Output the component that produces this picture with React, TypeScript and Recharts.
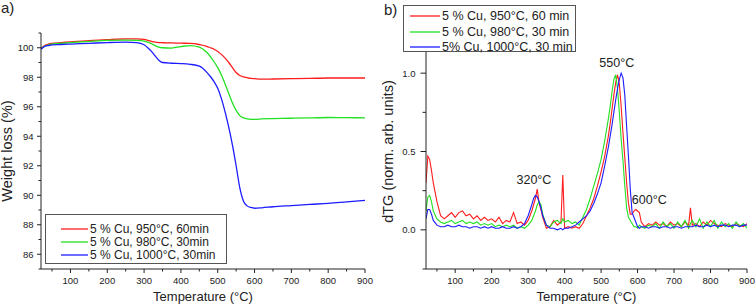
import { LineChart, Line, XAxis, YAxis, Legend, Label, ReferenceDot } from "recharts";

// TG curves (weight %), panel a
const tgTemps = [20, 30, 40, 50, 75, 100, 150, 200, 250, 280, 300, 310, 320, 330, 340, 350, 375, 400, 425, 450, 470, 480, 490, 500, 510, 520, 530, 540, 550, 560, 570, 580, 590, 600, 620, 650, 700, 750, 800, 850, 900];
const tgRed = [99.95, 100.15, 100.25, 100.3, 100.35, 100.4, 100.48, 100.55, 100.6, 100.6, 100.57, 100.5, 100.44, 100.38, 100.35, 100.34, 100.33, 100.31, 100.3, 100.22, 100.1, 100.0, 99.9, 99.75, 99.55, 99.3, 99.0, 98.65, 98.32, 98.12, 98.03, 97.97, 97.92, 97.9, 97.87, 97.88, 97.9, 97.92, 97.95, 97.95, 97.95];
const tgGreen = [99.95, 100.1, 100.2, 100.25, 100.3, 100.35, 100.43, 100.5, 100.52, 100.5, 100.45, 100.38, 100.28, 100.15, 100.05, 100.0, 99.98, 100.08, 100.15, 100.05, 99.7, 99.4, 99.05, 98.65, 98.15, 97.55, 96.9, 96.25, 95.75, 95.4, 95.25, 95.18, 95.15, 95.15, 95.18, 95.2, 95.22, 95.24, 95.27, 95.26, 95.25];
const tgBlue = [99.9, 100.1, 100.15, 100.2, 100.22, 100.25, 100.3, 100.35, 100.38, 100.35, 100.2, 100.0, 99.75, 99.45, 99.15, 99.0, 98.95, 98.93, 98.88, 98.75, 98.35, 98.05, 97.7, 97.25, 96.55, 95.65, 94.6, 93.4, 92.0, 90.5, 89.6, 89.28, 89.17, 89.12, 89.15, 89.22, 89.3, 89.38, 89.45, 89.55, 89.65];

// dTG curves (normalised), panel b
const dtgTemps = [
  20, 25, 30, 35, 40,
  50, 60, 70, 80, 90, 100, 110, 120, 130, 140, 150, 160, 170, 180, 190, 200, 210, 220, 230, 240, 250, 260, 270, 280, 290, 300,
  310, 315, 320, 325, 330, 335, 340,
  350, 360, 370, 380, 390, 395, 400,
  410, 420, 430, 440, 450, 460, 470, 480, 490, 500, 510,
  520, 525, 530, 535, 540, 545, 550, 555, 560, 565, 570, 575, 580, 585, 590, 595, 600, 605, 610,
  620, 630, 640, 650, 660, 670, 680, 690, 700, 710, 720, 730, 740, 745,
  750, 760, 770, 780, 790, 800, 810, 820, 830, 840, 850, 860, 870, 880, 890, 900,
];
const dtgRed = [
  0.3, 0.47, 0.45, 0.38, 0.3,
  0.18, 0.09, 0.07, 0.09, 0.11, 0.08, 0.11, 0.12, 0.09, 0.1, 0.07, 0.09, 0.06, 0.08, 0.06, 0.07, 0.05, 0.08, 0.04, 0.06, 0.05, 0.11, 0.04, 0.05, 0.03, 0.06,
  0.12, 0.16, 0.2, 0.26, 0.17, 0.13, 0.08,
  0.01, 0.02, 0.06, 0.03, 0.05, 0.35, 0.01,
  0.02, 0.01, 0.02, 0.01, 0.04, 0.09, 0.14, 0.2, 0.28, 0.37, 0.47,
  0.6, 0.68, 0.77, 0.86, 0.94, 0.99, 0.93, 0.79, 0.62, 0.46, 0.3, 0.17, 0.1, 0.1, 0.12, 0.13, 0.12, 0.11, 0.05,
  0.02, 0.04, 0.03, 0.05, 0.03, 0.04, 0.02, 0.05, 0.03, 0.04, 0.02, 0.05, 0.03, 0.14,
  0.03, 0.04, 0.02, 0.05, 0.03, 0.06, 0.04, 0.03, 0.02, 0.04, 0.03, 0.02, 0.04, 0.03, 0.02, 0.04,
];
const dtgGreen = [
  0.12, 0.21, 0.22, 0.18, 0.12,
  0.07, 0.05, 0.04, 0.05, 0.06, 0.04, 0.05, 0.06, 0.04, 0.05, 0.04, 0.05, 0.03, 0.04, 0.03, 0.04, 0.02, 0.03, 0.02, 0.03, 0.02, 0.03, 0.01, 0.02, 0.01, 0.03,
  0.06, 0.09, 0.12, 0.16, 0.18, 0.16, 0.1,
  0.03, 0.02, 0.05, 0.06, 0.04, 0.07, 0.05,
  0.06, 0.04, 0.05, 0.03, 0.08, 0.13, 0.2, 0.28, 0.36, 0.45, 0.57,
  0.71, 0.79, 0.88, 0.96, 0.99, 0.9, 0.75, 0.58, 0.44, 0.28, 0.14, 0.08, 0.06, 0.04, 0.02, 0.02, 0.01, 0.03, 0.02,
  0.01, 0.03, 0.02, 0.04, 0.01, 0.05, 0.02, 0.04, 0.01, 0.05, 0.02, 0.06, 0.01, 0.04,
  0.06, 0.02, 0.07, 0.01, 0.05, 0.02, 0.06, 0.01, 0.05, 0.02, 0.04, 0.01, 0.05, 0.02, 0.04, 0.01,
];
const dtgBlue = [
  0.07, 0.13, 0.13, 0.1, 0.06,
  0.03, 0.02, 0.02, 0.03, 0.02, 0.02, 0.03, 0.02, 0.02, 0.01, 0.02, 0.02, 0.01, 0.02, 0.01, 0.02, 0.01, 0.01, 0.02, 0.01, 0.01, 0.02, 0.01, 0.02, 0.04, 0.09,
  0.16, 0.2, 0.22, 0.21, 0.18, 0.14, 0.09,
  0.03, 0.01, 0.01, 0.0, 0.01, 0.0, 0.01,
  0.01, 0.02, 0.03, 0.05, 0.07, 0.09, 0.12, 0.17, 0.23, 0.3, 0.41,
  0.53, 0.6, 0.67, 0.75, 0.83, 0.9, 0.96, 1.0, 0.97, 0.86, 0.66, 0.47, 0.26, 0.11, 0.08, 0.05, 0.02, 0.01, 0.02,
  0.02, 0.01, 0.02, 0.02, 0.01, 0.02, 0.02, 0.01, 0.02, 0.02, 0.01, 0.02, 0.02, 0.02,
  0.02, 0.03, 0.02, 0.02, 0.03, 0.02, 0.03, 0.02, 0.03, 0.03, 0.02, 0.03, 0.03, 0.02, 0.03, 0.03,
];

const tempTicks = [50, 100, 150, 200, 250, 300, 350, 400, 450, 500, 550, 600, 650, 700, 750, 800, 850, 900];
const tgTicks = [85, 86, 87, 88, 89, 90, 91, 92, 93, 94, 95, 96, 97, 98, 99, 100, 101];
const dtgTicks = [-0.25, 0, 0.25, 0.5, 0.75, 1, 1.25];

const tgLabels = ["5 % Cu, 950°C, 60min", "5 % Cu, 980°C, 30min", "5 % Cu, 1000°C, 30min"];
const dtgLabels = ["5 % Cu, 950°C, 60 min", "5 % Cu, 980°C, 30 min", "5% Cu, 1000°C, 30 min"];
const colors = ["#ff1c1c", "#22e022", "#1c1cff"];

const FONT = "'Liberation Sans', Arial, sans-serif";
const INK = "#222";

const toSeries = (temps: number[], vals: number[]) => temps.map((t, i) => ({ t, v: vals[i] }));

const XTick = (props: any) => {
  const { x, y, payload } = props;
  const major = payload.value % 100 === 0;
  return (
    <g>
      <line x1={x} y1={y} x2={x} y2={y + (major ? 4 : 2.5)} stroke={INK} />
      {major && (
        <text x={x} y={y + 11} textAnchor="middle" dominantBaseline="central" fontSize={9.5} fill={INK} fontFamily={FONT}>
          {payload.value}
        </text>
      )}
    </g>
  );
};

const makeYTick = (isMajor: (v: number) => boolean, fmt: (v: number) => string, big: number, small: number, gap: number) =>
  (props: any) => {
    const { x, y, payload } = props;
    const major = isMajor(payload.value);
    return (
      <g>
        <line x1={x - (major ? big : small)} y1={y} x2={x} y2={y} stroke={INK} />
        {major && (
          <text x={x - gap} y={y} textAnchor="end" dominantBaseline="central" fontSize={9.5} fill={INK} fontFamily={FONT}>
            {fmt(payload.value)}
          </text>
        )}
      </g>
    );
  };

const TGTick = makeYTick((v) => v % 2 === 0, (v) => String(v), 4, 2.5, 7.5);
const DTGTick = makeYTick((v) => v === 0 || v === 0.5 || v === 1, (v) => v.toFixed(1), 5.5, 3.5, 10.5);

const yTitle = (text: string, dx: number) => (props: any) => {
  const vb = props.viewBox;
  const cx = vb.x + dx;
  const cy = vb.y + vb.height / 2;
  return (
    <text x={cx} y={cy} transform={`rotate(-90, ${cx}, ${cy})`} textAnchor="middle" dominantBaseline="central" fontSize={14.5} fill={INK} fontFamily={FONT}>
      {text}
    </text>
  );
};

const xTitle = (props: any) => {
  const vb = props.viewBox;
  return (
    <text x={vb.x + vb.width / 2} y={vb.y + 27} textAnchor="middle" dominantBaseline="central" fontSize={13} fill={INK} fontFamily={FONT}>
      Temperature (°C)
    </text>
  );
};

const legendBox = (labels: string[], o: { padTop: number; rowH: number; indent: number; swatch: number; fontSize: number }) => () => (
  <div style={{ width: "100%", height: "100%", boxSizing: "border-box", border: "1px solid #555", background: "#fff", paddingTop: o.padTop, fontFamily: FONT, color: INK }}>
    {labels.map((l, i) => (
      <div key={l} style={{ display: "flex", alignItems: "center", height: o.rowH, fontSize: o.fontSize, whiteSpace: "nowrap", lineHeight: 1 }}>
        <svg width={o.indent + o.swatch + 2} height={4} style={{ flex: "none" }}>
          <line x1={o.indent} y1={2} x2={o.indent + o.swatch} y2={2} stroke={colors[i]} strokeWidth={1.3} />
        </svg>
        <span>{l}</span>
      </div>
    ))}
  </div>
);

const tgSeries = [tgRed, tgGreen, tgBlue];
const dtgSeries = [dtgRed, dtgGreen, dtgBlue];

export default function App() {
  return (
    <div style={{ position: "absolute", left: 0, top: 0, width: 756, height: 307, background: "#fff", overflow: "hidden", fontFamily: FONT }}>
      <div style={{ position: "absolute", left: 1, top: 0, fontSize: 15, lineHeight: "16px", color: INK }}>a)</div>
      <div style={{ position: "absolute", left: 384, top: 1.5, fontSize: 15, lineHeight: "16px", color: INK }}>b)</div>

      <div style={{ position: "absolute", left: 0, top: 0 }}>
        <LineChart width={380} height={307} margin={{ top: 33, right: 15, bottom: 0, left: 0 }}>
          <XAxis dataKey="t" type="number" domain={[20, 900]} ticks={tempTicks} interval={0} height={38}
            tickSize={0} tickMargin={0} tickLine={false} tick={<XTick />} axisLine={{ stroke: INK }} allowDataOverflow>
            <Label content={xTitle} />
          </XAxis>
          <YAxis type="number" domain={[85, 101]} ticks={tgTicks} interval={0} width={41}
            tickSize={0} tickMargin={0} tickLine={false} tick={<TGTick />} axisLine={{ stroke: INK }} allowDataOverflow>
            <Label content={yTitle("Weight loss (%)", 7)} />
          </YAxis>
          <Legend verticalAlign="middle" align="center" content={legendBox(tgLabels, { padTop: 8, rowH: 12.8, indent: 15, swatch: 27, fontSize: 12 })}
            wrapperStyle={{ left: 45, top: 214, width: 182, height: 50 }} />
          {tgSeries.map((vals, i) => (
            <Line key={tgLabels[i]} name={tgLabels[i]} data={toSeries(tgTemps, vals)} dataKey="v" type="monotone"
              stroke={colors[i]} strokeWidth={1.3} dot={false} isAnimationActive={false} />
          ))}
        </LineChart>
      </div>

      <div style={{ position: "absolute", left: 376, top: 0 }}>
        <LineChart width={380} height={307} margin={{ top: 34, right: 9, bottom: 0, left: 0 }}>
          <XAxis dataKey="t" type="number" domain={[20, 900]} ticks={tempTicks} interval={0} height={38}
            tickSize={0} tickMargin={0} tickLine={false} tick={<XTick />} axisLine={{ stroke: INK }} allowDataOverflow>
            <Label content={xTitle} />
          </XAxis>
          <YAxis type="number" domain={[-0.25, 1.25]} ticks={dtgTicks} interval={0} width={50}
            tickSize={0} tickMargin={0} tickLine={false} tick={<DTGTick />} axisLine={{ stroke: INK }} allowDataOverflow>
            <Label content={yTitle("dTG (norm. arb. units)", 12)} />
          </YAxis>
          {dtgSeries.map((vals, i) => (
            <Line key={dtgLabels[i]} name={dtgLabels[i]} data={toSeries(dtgTemps, vals)} dataKey="v" type="linear"
              stroke={colors[i]} strokeWidth={1.1} dot={false} isAnimationActive={false} />
          ))}
          <ReferenceDot x={316} y={0.32} r={0} fill="none" stroke="none"
            label={{ value: "320°C", position: "center", fontSize: 12.5, fill: INK, fontFamily: FONT }} />
          <ReferenceDot x={543} y={1.065} r={0} fill="none" stroke="none"
            label={{ value: "550°C", position: "center", fontSize: 12.5, fill: INK, fontFamily: FONT }} />
          <ReferenceDot x={632} y={0.196} r={0} fill="none" stroke="none"
            label={{ value: "600°C", position: "center", fontSize: 12.5, fill: INK, fontFamily: FONT }} />
          <Legend verticalAlign="middle" align="center" content={legendBox(dtgLabels, { padTop: 2.5, rowH: 15.5, indent: 6, swatch: 30, fontSize: 12.5 })}
            wrapperStyle={{ left: 27, top: 5, width: 173, height: 47 }} />
        </LineChart>
      </div>
    </div>
  );
}
